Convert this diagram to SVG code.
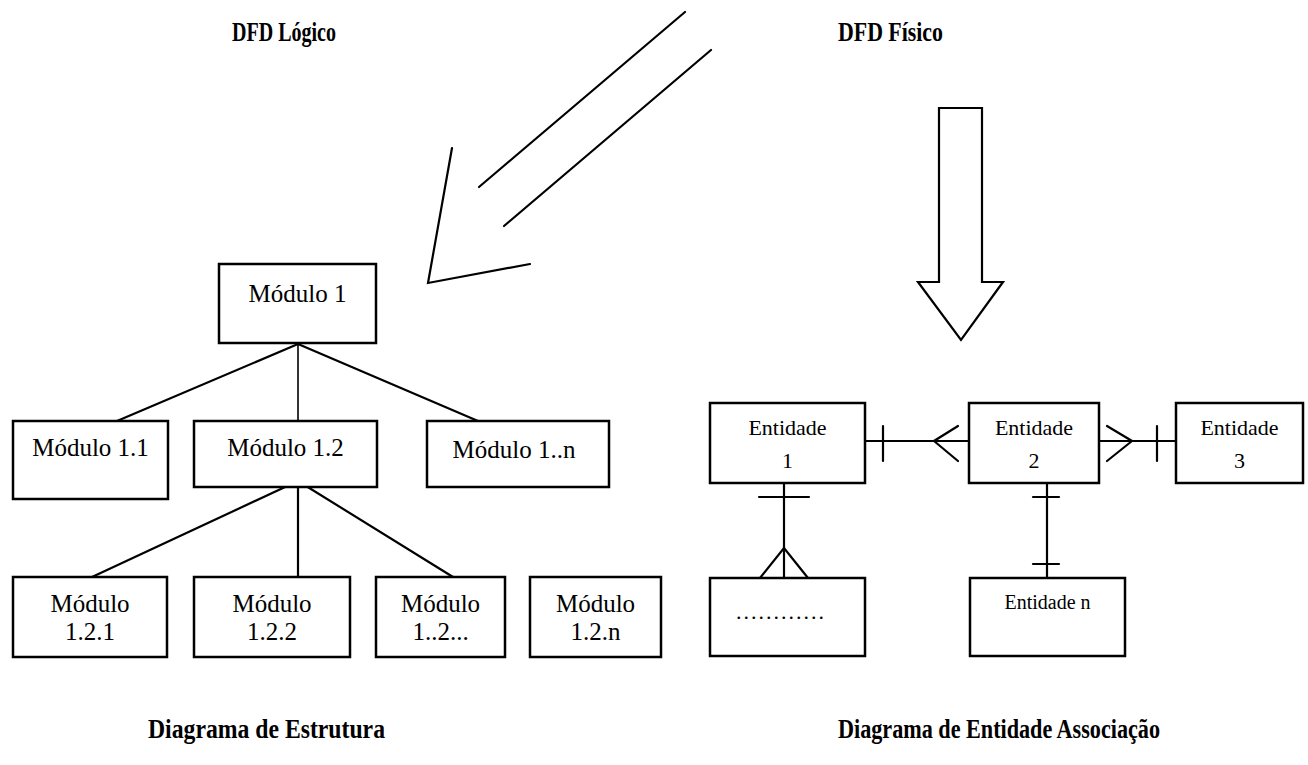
<svg xmlns="http://www.w3.org/2000/svg" width="1308" height="765" viewBox="0 0 1308 765">
<style>
  .box { fill: #fff; stroke: #000; stroke-width: 2.5; }
  .ln { fill: none; stroke: #000; stroke-width: 2.2; stroke-linecap: round; stroke-linejoin: miter; }
  .thin { fill: none; stroke: #000; stroke-width: 1.6; }
  .t { font-family: "Liberation Serif", "Times New Roman", serif; font-size: 25px; fill: #000; text-anchor: middle; }
  .te { font-family: "Liberation Serif", "Times New Roman", serif; font-size: 22px; fill: #000; text-anchor: middle; }
  .title { font-family: "Liberation Serif", "Times New Roman", serif; font-weight: bold; font-size: 27px; fill: #000; }
  .big { font-size: 27px; }
  .small { font-size: 20px; }
</style>
<rect width="1308" height="765" fill="#fff"/>

<g id="title-dfd-logico"><text class="title" x="232" y="41" textLength="104" lengthAdjust="spacingAndGlyphs">DFD Lógico</text></g>
<g id="title-dfd-fisico"><text class="title" x="838" y="41" textLength="105" lengthAdjust="spacingAndGlyphs">DFD Físico</text></g>
<g id="title-estrutura"><text class="title big" x="148" y="738" textLength="237" lengthAdjust="spacingAndGlyphs">Diagrama de Estrutura</text></g>
<g id="title-entidade"><text class="title big" x="838" y="738" textLength="322" lengthAdjust="spacingAndGlyphs">Diagrama de Entidade Associação</text></g>

<g id="connectors">
  <line class="ln" x1="685" y1="12" x2="479" y2="187"/>
  <line class="ln" x1="711" y1="50" x2="504" y2="226"/>
  <polyline class="ln" points="452,148 428,283 530,264"/>
  <polygon class="ln" points="939,108 982,108 982,282 1003,282 961,340 918,282 939,282"/>
  <line class="ln" x1="298" y1="344" x2="117" y2="421"/>
  <line class="thin" x1="298" y1="344" x2="298" y2="421"/>
  <line class="ln" x1="298" y1="344" x2="478" y2="421"/>
  <line class="ln" x1="298" y1="481" x2="92" y2="577"/>
  <line class="ln" x1="298" y1="481" x2="298" y2="577"/>
  <line class="ln" x1="298" y1="481" x2="453" y2="577"/>
  <line class="ln" x1="865" y1="441" x2="969" y2="441"/>
  <line class="ln" x1="883" y1="426" x2="883" y2="461"/>
  <polyline class="ln" points="958,426 934,441 958,461"/>
  <line class="ln" x1="1099" y1="441" x2="1176" y2="441"/>
  <polyline class="ln" points="1107,426 1132,441 1107,461"/>
  <line class="ln" x1="1157" y1="426" x2="1157" y2="461"/>
  <line class="ln" x1="784" y1="483" x2="784" y2="578"/>
  <line class="ln" x1="759" y1="497" x2="809" y2="497"/>
  <polyline class="ln" points="760,578 784,548 808,578"/>
  <line class="ln" x1="1047" y1="483" x2="1047" y2="578"/>
  <line class="ln" x1="1033" y1="497" x2="1059" y2="497"/>
  <line class="ln" x1="1033" y1="564" x2="1059" y2="564"/>
</g>

<g id="modulo-1"><rect class="box" x="219" y="264" width="157" height="79"/><text class="t" x="297.5" y="302">Módulo 1</text></g>
<g id="modulo-1-1"><rect class="box" x="13" y="421" width="155" height="78"/><text class="t" x="90.5" y="456">Módulo 1.1</text></g>
<g id="modulo-1-2"><rect class="box" x="194" y="421" width="183" height="66"/><text class="t" x="285.5" y="456">Módulo 1.2</text></g>
<g id="modulo-1-n"><rect class="box" x="427" y="421" width="182" height="66"/><text class="t" x="514" y="458">Módulo 1..n</text></g>
<g id="modulo-1-2-1"><rect class="box" x="13" y="577" width="154" height="80"/><text class="t" x="90" y="612">Módulo</text><text class="t" x="90" y="640">1.2.1</text></g>
<g id="modulo-1-2-2"><rect class="box" x="194" y="577" width="156" height="80"/><text class="t" x="272" y="612">Módulo</text><text class="t" x="272" y="640">1.2.2</text></g>
<g id="modulo-1-2-x"><rect class="box" x="376" y="577" width="129" height="80"/><text class="t" x="440.5" y="612">Módulo</text><text class="t" x="440.5" y="640">1..2...</text></g>
<g id="modulo-1-2-n"><rect class="box" x="530" y="577" width="131" height="80"/><text class="t" x="595.5" y="612">Módulo</text><text class="t" x="595.5" y="640">1.2.n</text></g>

<g id="entidade-1"><rect class="box" x="710" y="403" width="155" height="80"/><text class="te" x="787.5" y="435">Entidade</text><text class="te" x="787.5" y="468">1</text></g>
<g id="entidade-2"><rect class="box" x="969" y="403" width="130" height="80"/><text class="te" x="1034" y="435">Entidade</text><text class="te" x="1034" y="468">2</text></g>
<g id="entidade-3"><rect class="box" x="1176" y="403" width="127" height="80"/><text class="te" x="1239.5" y="435">Entidade</text><text class="te" x="1239.5" y="468">3</text></g>
<g id="entidade-x"><rect class="box" x="710" y="578" width="155" height="78"/><text class="te" x="781" y="619" letter-spacing="2">............</text></g>
<g id="entidade-n"><rect class="box" x="970" y="578" width="155" height="78"/><text class="te small" x="1047.5" y="609">Entidade n</text></g>
</svg>
